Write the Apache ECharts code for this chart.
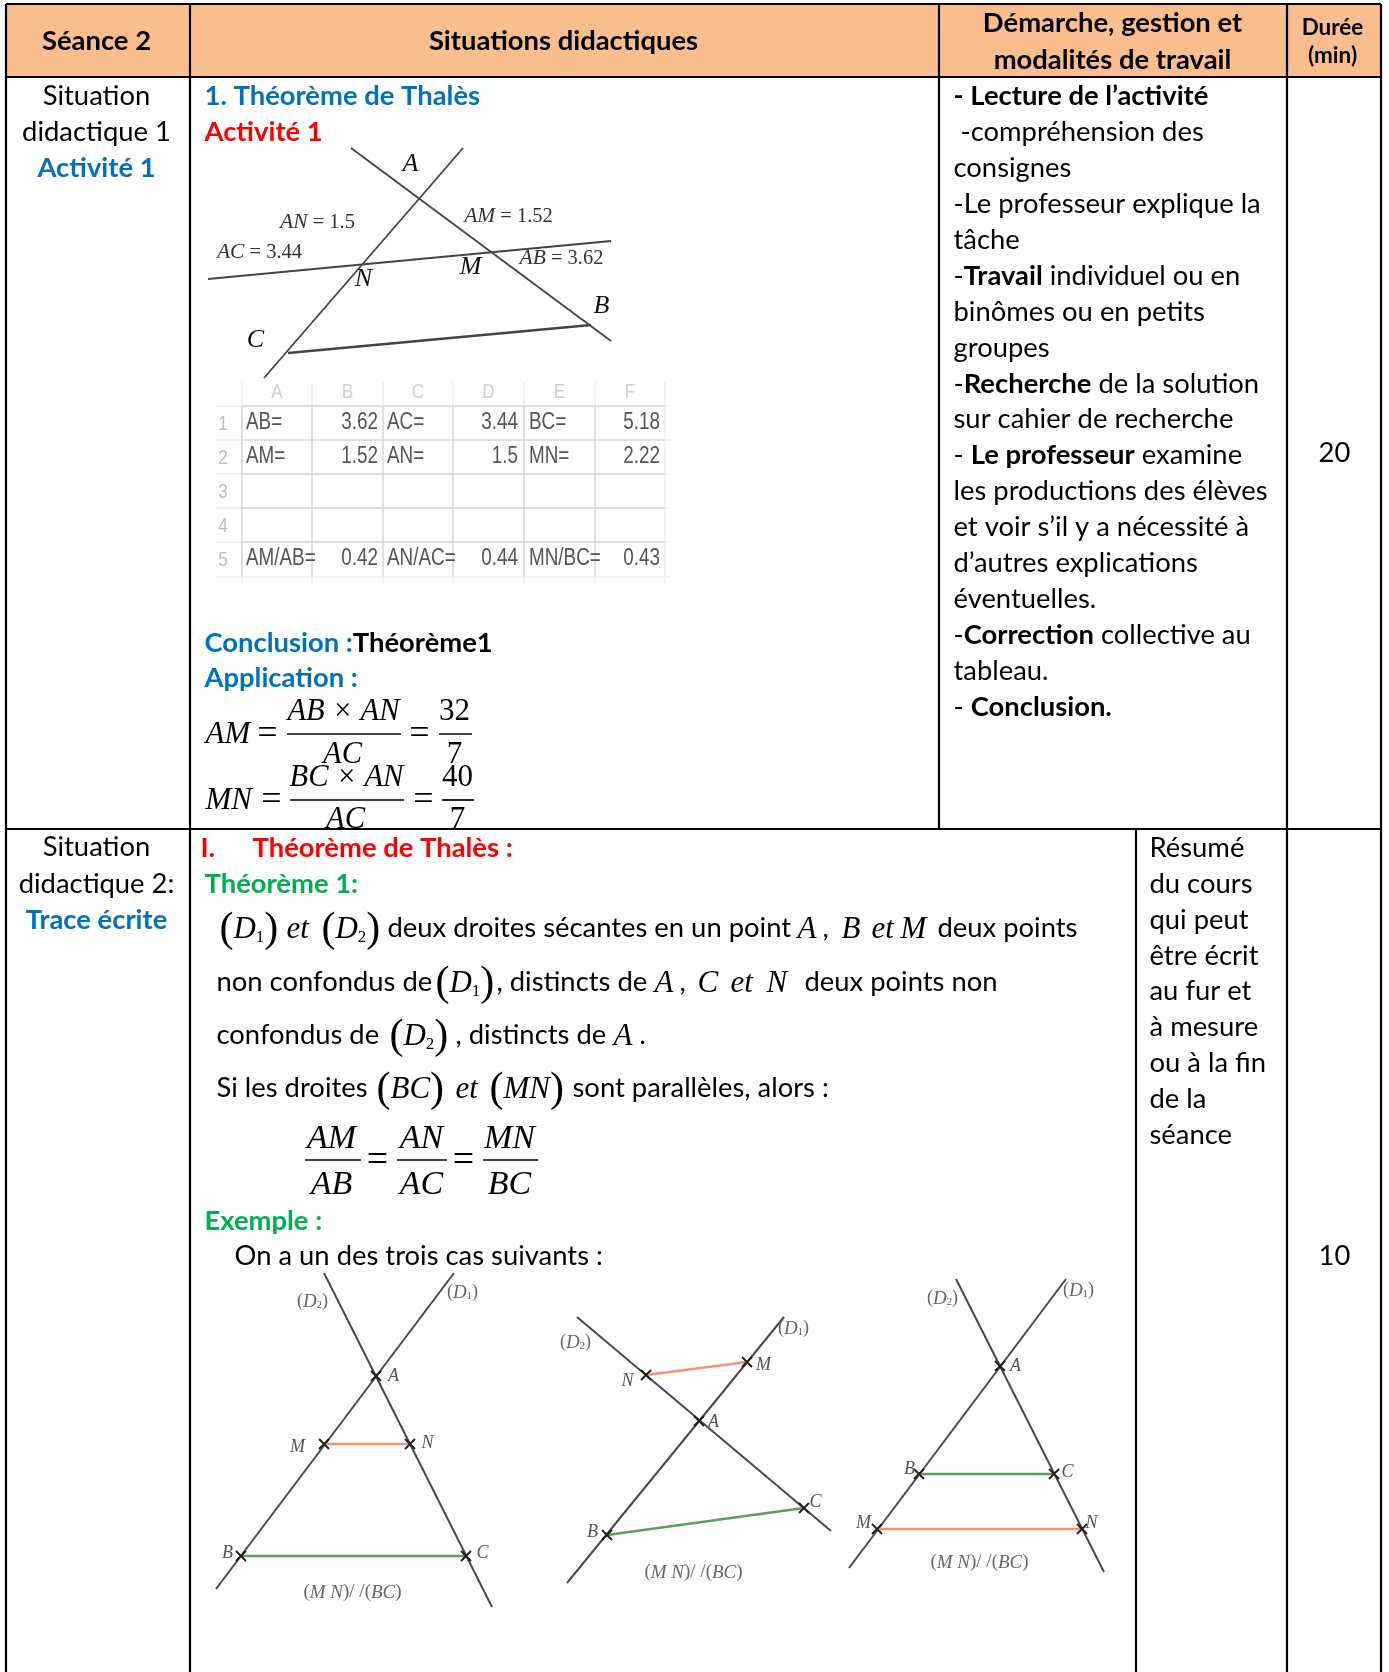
<!DOCTYPE html>
<html>
<head>
<meta charset="utf-8">
<title>Séance 2</title>
<script src="https://cdn.jsdelivr.net/npm/echarts@6/dist/echarts.min.js"></script>
<style>
html, body { margin: 0; padding: 0; background: #fff; }
#main { width: 1389px; height: 1672px; }
</style>
</head>
<body>
<div id="main"></div>
<script>
var tableRules = [
    [[6, 4], [1381, 4]], [[6, 77], [1381, 77]], [[6, 829], [1381, 829]],
    [[6, 4], [6, 1672]], [[190, 4], [190, 1672]], [[939, 4], [939, 829]],
    [[1287, 4], [1287, 1672]], [[1381, 4], [1381, 1672]], [[1136, 829], [1136, 1672]]
];
var headerBand = [[6, 4, 1381, 77]];

var headerTexts = [
    [97, 41, 'Séance 2'], [564, 41, 'Situations didactiques'],
    [1113, 23, 'Démarche, gestion et'], [1113, 60, 'modalités de travail']
];
var headerSmall = [[1333, 27, 'Durée'], [1333, 55, '(min)']];

var leftBlack = [[97, 96, 'Situation'], [97, 132, 'didactique 1'], [97, 847, 'Situation'], [97, 884, 'didactique 2:']];
var leftBlue = [[97, 168, 'Activité 1'], [97, 920, 'Trace écrite']];
var durations = [[1335, 453, '20'], [1335, 1256, '10']];

var demarcheLines = [
    '{b|- Lecture de l’activité}', ' -compréhension des', 'consignes', '-Le professeur explique la', 'tâche',
    '-{b|Travail} individuel ou en', 'binômes ou en petits', 'groupes', '-{b|Recherche} de la solution',
    'sur cahier de recherche', '- {b|Le professeur} examine', 'les productions des élèves',
    'et voir s’il y a nécessité à', 'd’autres explications', 'éventuelles.', '-{b|Correction} collective au',
    'tableau.', '- {b|Conclusion.}'
];
var resumeLines = ['Résumé', 'du cours', 'qui peut', 'être écrit', 'au fur et', 'à mesure', 'ou à la fin', 'de la', 'séance'];

var blueBold = [[205, 96, '1. Théorème de Thalès'], [205, 678, 'Application :']];
var redBold = [[201, 848, 'I.'], [253, 848, 'Théorème de Thalès :'], [205, 132, 'Activité 1']];
var greenBold = [[205, 884, 'Théorème 1:'], [205, 1221, 'Exemple :']];
var mixedBold = [[205, 643, '{c|Conclusion :}{b|Théorème1}']];
var bodyTexts = [
    [388, 928, 'deux droites sécantes en un point'], [938, 928, 'deux points'],
    [217, 982, 'non confondus de'], [497, 982, ', distincts de'], [680, 982, ','], [805, 982, 'deux points non'],
    [217, 1035, 'confondus de'], [456, 1035, ', distincts de'], [640, 1035, '.'],
    [217, 1088, 'Si les droites'], [573, 1088, 'sont parallèles, alors :'],
    [235, 1256, 'On a un des trois cas suivants :'], [823, 928, ',']
];

// first figure
var thalesLines = [[[463, 148], [264, 378]], [[351, 148], [611, 341]], [[208, 279], [611, 241]]];
var thalesBase = [[[288, 353], [591, 325]]];
var thalesPoints = [[411, 164, 'A'], [364, 279, 'N'], [471, 267, 'M'], [602, 306, 'B'], [256, 340, 'C']];
var thalesLengths = [
    [318, 222, '{i|AN} = 1.5'], [260, 252, '{i|AC} = 3.44'],
    [509, 216, '{i|AM} = 1.52'], [562, 258, '{i|AB} = 3.62']
];

// spreadsheet picture
var sheetColumns = [242, 312, 383, 453, 524, 595, 665];
var sheetRows = [406, 440, 474, 508, 542, 577];
var sheetHeads = ['A', 'B', 'C', 'D', 'E', 'F'];
var sheetNumbers = ['1', '2', '3', '4', '5'];
var sheetLabels = [
    [246, 423, 'AB='], [387, 423, 'AC='], [529, 423, 'BC='],
    [246, 457, 'AM='], [387, 457, 'AN='], [529, 457, 'MN='],
    [246, 559, 'AM/AB='], [387, 559, 'AN/AC='], [529, 559, 'MN/BC=']
];
var sheetValues = [
    [378, 423, '3.62'], [518, 423, '3.44'], [660, 423, '5.18'],
    [378, 457, '1.52'], [518, 457, '1.5'], [660, 457, '2.22'],
    [378, 559, '0.42'], [518, 559, '0.44'], [660, 559, '0.43']
];

// Application formulas
var applyBars = [[[287, 734], [401, 734]], [[439, 734], [472, 734]], [[290, 800], [404, 800]], [[442, 800], [474, 800]]];
var applyLeft = [[206, 733, 'AM'], [206, 799, 'MN']];
var applyCenter = [
    [344, 710, 'AB × AN'], [343, 753, 'AC'], [347, 776, 'BC × AN'], [346, 818, 'AC']
];
var applyDigits = [[455, 710, '32'], [455, 753, '7'], [458, 776, '40'], [458, 818, '7']];
var applyEquals = [[268, 733, '='], [420, 733, '='], [272, 799, '='], [424, 799, '=']];

// theorem statement, math pieces
var mathInline = [
    [220, 928, '{p|(}{i|D}{s|1}{p|)}'], [287, 928, '{i|et}'], [322, 928, '{p|(}{i|D}{s|2}{p|)}'],
    [798, 928, '{i|A}'], [842, 928, '{i|B}'], [872, 928, '{i|et}'], [901, 928, '{i|M}'],
    [436, 982, '{p|(}{i|D}{s|1}{p|)}'], [655, 982, '{i|A}'], [698, 982, '{i|C}'], [731, 982, '{i|et}'], [767, 982, '{i|N}'],
    [390, 1035, '{p|(}{i|D}{s|2}{p|)}'], [614, 1035, '{i|A}'],
    [377, 1088, '{p|(}{i|BC}{p|)}'], [456, 1088, '{i|et}'], [490, 1088, '{p|(}{i|MN}{p|)}']
];
var ratioBars = [[[305, 1160], [361, 1160]], [[397, 1160], [447, 1160]], [[483, 1160], [538, 1160]]];
var ratioTexts = [
    [332, 1137, 'AM'], [422, 1137, 'AN'], [510, 1137, 'MN'],
    [332, 1183, 'AB'], [422, 1183, 'AC'], [510, 1183, 'BC']
];
var ratioEquals = [[378, 1160, '='], [464, 1160, '=']];

// three cases
var caseLines = [
    [[324, 1273], [492, 1607]], [[454, 1273], [216, 1589]],
    [[577, 1317], [831, 1531]], [[784, 1317], [567, 1583]],
    [[956, 1279], [1104, 1572]], [[1066, 1279], [849, 1568]]
];
var caseOrange = [[[324, 1444], [410, 1444]], [[646, 1375], [747, 1362]], [[877, 1529], [1082, 1529]]];
var caseGreen = [[[241, 1556], [466, 1556]], [[607, 1535], [804, 1508]], [[919, 1474], [1054, 1474]]];
var caseCrosses = [
    [376, 1376], [324, 1444], [410, 1444], [241, 1556], [466, 1556],
    [699, 1421], [646, 1375], [747, 1362], [607, 1535], [804, 1508],
    [1000, 1366], [919, 1474], [1054, 1474], [877, 1529], [1082, 1529]
];
var casePoints = [
    [394, 1376, 'A'], [298, 1447, 'M'], [428, 1443, 'N'], [228, 1553, 'B'], [483, 1553, 'C'],
    [714, 1422, 'A'], [628, 1381, 'N'], [764, 1365, 'M'], [593, 1532, 'B'], [816, 1502, 'C'],
    [1016, 1366, 'A'], [910, 1469, 'B'], [1068, 1472, 'C'], [864, 1523, 'M'], [1092, 1523, 'N']
];
var caseD = [
    [313, 1301, '({i|D}{s|2})'], [463, 1292, '({i|D}{s|1})'],
    [576, 1342, '({i|D}{s|2})'], [794, 1328, '({i|D}{s|1})'],
    [943, 1298, '({i|D}{s|2})'], [1079, 1290, '({i|D}{s|1})']
];
var caseNames = [
    [353, 1592, '({i|M N})/ /({i|BC})'], [694, 1572, '({i|M N})/ /({i|BC})'], [980, 1562, '({i|M N})/ /({i|BC})']
];

var SANS = 'Lato';
var ARIAL = '"Liberation Sans"';
var SERIF = '"Liberation Serif"';
var BLUE = '#0070C0', RED = '#FF0000', GREEN = '#00B050';
var BODY = 27.4;

function stackLines(lines, x, y0, step) {
    return lines.map(function (t, i) { return [x, y0 + i * step, t]; });
}

function textSeries(rows, lab, rich) {
    return {
        type: 'scatter',
        symbolSize: 1,
        itemStyle: { color: 'transparent', opacity: 1 },
        silent: true,
        z: 5,
        data: rows.map(function (r) { return { name: r[2], value: [r[0], r[1]] }; }),
        label: {
            show: true,
            position: [0, 0],
            offset: [0, lab.dy === undefined ? 1 : lab.dy],
            verticalAlign: 'middle',
            align: lab.align || 'left',
            opacity: 1,
            fontFamily: lab.family || SANS,
            fontSize: lab.size,
            fontWeight: lab.weight || 400,
            fontStyle: lab.italic ? 'italic' : 'normal',
            color: lab.color || '#000',
            formatter: function (p) { return p.name; },
            rich: rich || {}
        }
    };
}

// the sheet text is a narrow face, squeeze it horizontally
function squeezedText(rows, size, color, align) {
    return {
        type: 'custom',
        silent: true,
        z: 5,
        data: rows.map(function (r) { return [r[0], r[1]]; }),
        encode: { x: 0, y: 1 },
        renderItem: function (params, api) {
            var p = api.coord([api.value(0), api.value(1)]);
            return {
                type: 'text',
                x: p[0],
                y: p[1],
                scaleX: 0.82,
                style: {
                    text: rows[params.dataIndex][2],
                    font: size + 'px ' + ARIAL,
                    fill: color,
                    align: align,
                    verticalAlign: 'middle'
                }
            };
        }
    };
}

function ruleSeries(segs, color, width, z) {
    return {
        type: 'lines',
        coordinateSystem: 'cartesian2d',
        silent: true,
        z: z || 3,
        lineStyle: { color: color, width: width, opacity: 1, curveness: 0 },
        data: segs.map(function (s) { return { coords: s }; })
    };
}

var boldRich = { b: { fontFamily: SANS, fontSize: BODY, fontWeight: 700, color: '#000' } };
var mixedRich = {
    b: { fontFamily: SANS, fontSize: BODY, fontWeight: 700, color: '#000' },
    c: { fontFamily: SANS, fontSize: BODY, fontWeight: 700, color: BLUE }
};
var mathRich = {
    p: { fontFamily: SERIF, fontSize: 42, fontStyle: 'normal', fontWeight: 300, color: '#000' },
    i: { fontFamily: SERIF, fontSize: 31, fontStyle: 'italic', color: '#000' },
    s: { fontFamily: SERIF, fontSize: 17, fontStyle: 'normal', color: '#000', padding: [16, 0, 0, 0] }
};
var lengthRich = { i: { fontFamily: SERIF, fontSize: 21.5, fontStyle: 'italic', color: '#333' } };
var caseRich = {
    i: { fontFamily: SERIF, fontSize: 19, fontStyle: 'italic', color: '#666' },
    s: { fontFamily: SERIF, fontSize: 11, color: '#666', padding: [7, 0, 0, 0] }
};

// sheet grid built from the column and row positions
var sheetMain = [], sheetFaint = [];
sheetColumns.forEach(function (x, i) {
    (i === 6 ? sheetFaint : sheetMain).push([[x, 406], [x, 577]]);
    sheetFaint.push([[x, 382], [x, 406]], [[x, 577], [x, 585]]);
});
sheetRows.forEach(function (y, i) {
    (i === 5 ? sheetFaint : sheetMain).push([[242, y], [665, y]]);
    sheetFaint.push([[216, y], [242, y]], [[665, y], [670, y]]);
});
var sheetHeadRows = sheetHeads.map(function (t, i) { return [(sheetColumns[i] + sheetColumns[i + 1]) / 2, 392, t]; });
var sheetNumberRows = sheetNumbers.map(function (t, i) { return [223, (sheetRows[i] + sheetRows[i + 1]) / 2 + 1, t]; });

var myChart = echarts.init(document.getElementById('main'));
var option = {
    animation: false,
    backgroundColor: '#fff',
    tooltip: { show: false },
    grid: { left: 0, right: 0, top: 0, bottom: 0 },
    xAxis: { type: 'value', min: 0, max: 1389, show: false },
    yAxis: { type: 'value', min: 0, max: 1672, inverse: true, show: false },
    series: [
        {
            type: 'custom',
            silent: true,
            z: 1,
            data: headerBand,
            encode: { x: [0, 2], y: [1, 3] },
            renderItem: function (params, api) {
                var a = api.coord([api.value(0), api.value(1)]);
                var b = api.coord([api.value(2), api.value(3)]);
                return {
                    type: 'rect',
                    shape: { x: a[0], y: a[1], width: b[0] - a[0], height: b[1] - a[1] },
                    style: { fill: '#F8BE8D' }
                };
            }
        },
        ruleSeries(tableRules, '#000', 2.2, 8),

        ruleSeries(thalesLines, '#444', 1.8),
        ruleSeries(thalesBase, '#444', 2.4),
        textSeries(thalesPoints, { family: SERIF, size: 26, italic: true, align: 'center', color: '#111', dy: 1 }),
        textSeries(thalesLengths, { family: SERIF, size: 20.5, align: 'center', color: '#333', dy: 1 }, lengthRich),

        ruleSeries(sheetFaint, '#eeeeee', 1.5),
        ruleSeries(sheetMain, '#d6d6d6', 1.5),
        squeezedText(sheetHeadRows, 21, '#d0d0d0', 'center'),
        squeezedText(sheetNumberRows, 21, '#bdbdbd', 'center'),
        squeezedText(sheetLabels, 23, '#555', 'left'),
        squeezedText(sheetValues, 23, '#555', 'right'),

        ruleSeries(applyBars, '#000', 1.7),
        textSeries(applyLeft, { family: SERIF, size: 31, italic: true, dy: 2 }),
        textSeries(applyCenter, { family: SERIF, size: 30.5, italic: true, align: 'center', dy: 2 }),
        textSeries(applyDigits, { family: SERIF, size: 31, align: 'center', dy: 2 }),
        textSeries(applyEquals, { family: SERIF, size: 36, align: 'center', dy: 2 }),

        textSeries(headerTexts, { size: BODY, weight: 700, align: 'center' }),
        textSeries(headerSmall, { size: 22.5, weight: 700, align: 'center' }),
        textSeries(leftBlack, { size: BODY, align: 'center' }),
        textSeries(leftBlue, { size: BODY, weight: 700, align: 'center', color: BLUE }),
        textSeries(durations, { size: BODY, align: 'center' }),
        textSeries(stackLines(demarcheLines, 954, 96, 35.9), { size: BODY }, boldRich),
        textSeries(stackLines(resumeLines, 1150, 847.5, 35.9), { size: BODY }),
        textSeries(blueBold, { size: BODY, weight: 700, color: BLUE }),
        textSeries(redBold, { size: BODY, weight: 700, color: RED }),
        textSeries(greenBold, { size: BODY, weight: 700, color: GREEN }),
        textSeries(mixedBold, { size: BODY, weight: 700 }, mixedRich),
        textSeries(bodyTexts, { size: BODY }),

        textSeries(mathInline, { family: SERIF, size: 31, dy: 2 }, mathRich),
        ruleSeries(ratioBars, '#000', 1.5),
        textSeries(ratioTexts, { family: SERIF, size: 34, italic: true, align: 'center', dy: 3 }),
        textSeries(ratioEquals, { family: SERIF, size: 38, align: 'center', dy: 2 }),

        ruleSeries(caseLines, '#4a4a4a', 2),
        ruleSeries(caseOrange, '#F4946A', 2.4),
        ruleSeries(caseGreen, '#5AA05A', 2.4),
        {
            type: 'scatter',
            symbol: 'path://M0 0L10 10M10 0L0 10',
            symbolSize: 10,
            silent: true,
            z: 4,
            itemStyle: { color: 'transparent', borderColor: '#1c1c1c', borderWidth: 1.8, opacity: 1 },
            data: caseCrosses
        },
        textSeries(casePoints, { family: SERIF, size: 18, italic: true, align: 'center', color: '#555', dy: 1 }),
        textSeries(caseD, { family: SERIF, size: 18, align: 'center', color: '#666', dy: 1 }, caseRich),
        textSeries(caseNames, { family: SERIF, size: 19, align: 'center', color: '#666', dy: 1 }, caseRich)
    ]
};
myChart.setOption(option, true);
</script>
</body>
</html>
